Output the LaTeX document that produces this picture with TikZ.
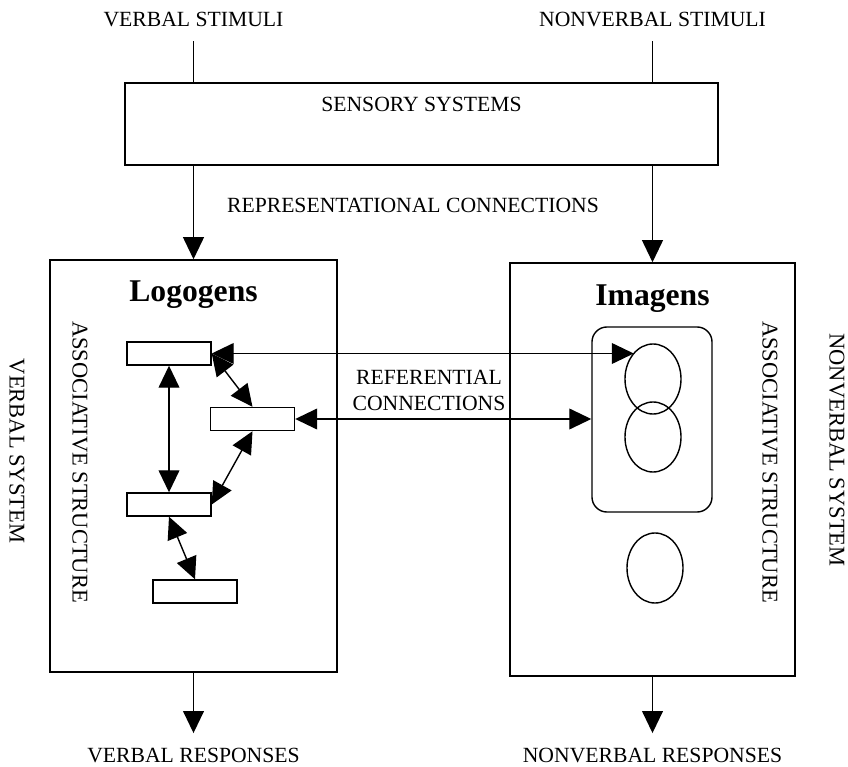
\documentclass[tikz,border=0pt]{standalone}
\usepackage{fontspec}
\setmainfont{Liberation Serif}
\usetikzlibrary{arrows.meta,positioning,shapes.geometric}
\tikzset{%
	sysbox/.style   = {draw, rectangle, line width=1pt, inner sep=0pt},
	unit/.style     = {draw, rectangle, line width=1pt, minimum width=2.1cm, minimum height=0.575cm, inner sep=0pt}, % logogen
	imagen/.style   = {draw, ellipse, line width=1pt, minimum width=1.4cm, minimum height=1.75cm, inner sep=0pt}, % imagen
	txt/.style      = {font=\fontsize{15.4}{18.5}\selectfont, outer sep=0.25cm},
	sidetxt/.style  = {font=\fontsize{16}{19}\selectfont, rotate=-90},
	boxtitle/.style = {font=\fontsize{22.5}{26}\selectfont\bfseries},
	arrow/.style    = {line width=1pt, -{Triangle[length=0.55cm,width=0.52cm]}},
	biarrow/.style  = {line width=1pt, {Triangle[length=0.55cm,width=0.52cm]}-{Triangle[length=0.55cm,width=0.52cm]}},
}

\begin{document}
\begin{tikzpicture}[x=0.025cm,y=-0.025cm]
	\useasboundingbox (0,0) rectangle (848,767);
	
	\node [txt] (vstim) at (193.5,19) {VERBAL STIMULI};
	\node [txt] (nvstim) at (652.5,19) {NONVERBAL STIMULI};
	\node [sysbox,minimum width=14.825cm,minimum height=2.05cm,
	       label={[txt,anchor=north,yshift=-0.25cm,outer sep=0pt]north:SENSORY SYSTEMS}] (sens) at (421.5,124) {};
	\node [txt,outer sep=0pt] (repc) at (413,205) {REPRESENTATIONAL CONNECTIONS};
	
	\node [sysbox,minimum width=7.175cm,minimum height=10.3cm] (lbox) at (193.5,466) {};
	\node [sysbox,minimum width=7.125cm,minimum height=10.325cm] (rbox) at (652.5,469.5) {};
	\node [boxtitle] (logo) at (193.5,295) {Logogens};
	\node [boxtitle] (ima) at (652.5,299) {Imagens};
	\node [sidetxt] (lassoc) at (80,462) {ASSOCIATIVE STRUCTURE};
	\node [sidetxt] (rassoc) at (770,462) {ASSOCIATIVE STRUCTURE};
	\node [sidetxt] (vsys) at (17,451) {VERBAL SYSTEM};
	\node [sidetxt] (nvsys) at (837,450) {NONVERBAL SYSTEM};
	\node [txt] (vresp) [below of=lbox,node distance=7.225cm] {VERBAL RESPONSES};
	\node [txt] (nvresp) [below of=rbox,node distance=7.1375cm] {NONVERBAL RESPONSES};
	
	\node [unit] (u1) at (169,353.5) {};
	\node [unit] (u2) at (252.5,419) {};
	\node [unit] (u3) at (169,504.5) {};
	\node [unit] (u4) at (195,591.5) {};
	
	\node [draw,rounded corners=0.375cm,line width=1pt,minimum width=3cm,minimum height=4.625cm] (grp) at (652,419.5) {};
	\node [imagen] (i1) at (653,379) {};
	\node [imagen] (i2) at (653,437) {};
	\node [imagen] (i3) at (655,568) {};
	\node [txt,outer sep=0pt,align=center] (refc) at (429,390) {REFERENTIAL\\CONNECTIONS};
	
	\draw [line width=1pt] (vstim.south) -- (vstim.south |- sens.north);
	\draw [line width=1pt] (nvstim.south) -- (nvstim.south |- sens.north);
	\draw [arrow] (sens.south -| lbox.north) -- (lbox.north);
	\draw [arrow] (sens.south -| rbox.north) -- (rbox.north);
	\draw [arrow] (lbox.south) -- (vresp.north);
	\draw [arrow] (rbox.south) -- (nvresp.north);
	
	\draw [biarrow] (u1.east) -- (u1.east -| i1.126);
	\draw [biarrow] (u2.east) -- (u2.east -| grp.west);
	\draw [biarrow] (u1.south) -- (u3.north);
	\draw [biarrow] (u1.east) -- (u2.north);
	\draw [biarrow] (u2.south) -- (u3.east);
	\draw [biarrow] (u3.south) -- (u4.north);
\end{tikzpicture}
\end{document}
